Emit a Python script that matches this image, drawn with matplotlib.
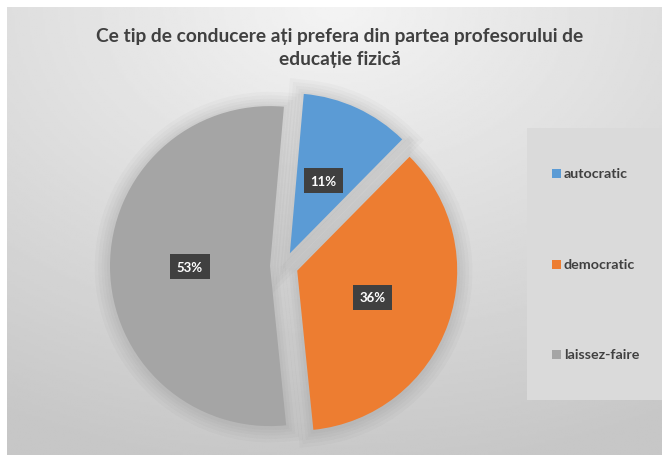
import numpy as np
import matplotlib.pyplot as plt
from matplotlib.patches import Rectangle, Wedge

# date din grafic
categorii = ["autocratic", "democratic", "laissez-faire"]
procente = [11, 36, 53]
culori = ["#5b9bd5", "#ed7d31", "#a5a5a5"]
titlu = "Ce tip de conducere ați prefera din partea profesorului de\neducație fizică"

plt.rcParams['font.family'] = ['Lato', 'DejaVu Sans']

fig = plt.figure(figsize=(6.62, 4.56), dpi=100)
fig.patch.set_facecolor("white")
ax = fig.add_axes([0, 0, 1, 1])

# fundal cu gradient (zona graficului)
W, H = 662, 456
yy, xx = np.mgrid[0:200, 0:300]
d = np.sqrt(((xx - 150) / 300.0) ** 2 + ((yy - 0) / 200.0) ** 2)
grad = np.clip(0.955 - 0.17 * d, 0.78, 0.96)
ax.imshow(grad, cmap="gray", vmin=0, vmax=1, extent=[7, W, 0, H - 8],
          origin="upper", aspect="auto", zorder=0)

# pie
cx, cy, r = 284, 456 - 267, 160
wedges, texts, autotexts = ax.pie(
    procente, colors=culori, startangle=85, counterclock=False,
    explode=[14] * 3, radius=r, center=(cx, cy),
    autopct="%1.0f%%", pctdistance=0.5,
    textprops=dict(color="white", fontsize=9.5, fontweight="bold"),
    wedgeprops=dict(linewidth=0))

# umbra difuza in jurul feliilor
for w in wedges:
    for lw in [22, 17, 12, 8, 4]:
        sh = Wedge((w.center[0], w.center[1] - 1), w.r, w.theta1, w.theta2,
                   facecolor="none", edgecolor="black", linewidth=lw,
                   alpha=0.02, zorder=0.5)
        ax.add_patch(sh)
    w.set_zorder(1)

for t in autotexts:
    t.set_bbox(dict(boxstyle="square,pad=0.5", facecolor="#404040",
                    edgecolor="none"))
    t.set_zorder(3)

ax.set_xlim(0, W)
ax.set_ylim(0, H)
ax.set_aspect("auto")
ax.axis("off")

# titlu
ax.text(340, H - 48, titlu, ha="center", va="center", fontsize=13.8,
        fontweight="bold", color="#404040", linespacing=1.4, zorder=4)

# legenda
ax.add_patch(Rectangle((527, H - 401), 140, 272, facecolor="#dadada",
                       edgecolor="none", zorder=1))
leg_y = [174, 265, 355]
for nume, cul, y in zip(categorii, culori, leg_y):
    ax.add_patch(Rectangle((552, H - y - 4.5), 9, 9, facecolor=cul,
                           edgecolor="none", zorder=2))
    ax.text(564, H - y, nume, ha="left", va="center", fontsize=10.3,
            fontweight="bold", color="#404040", zorder=2)

fig.savefig("out.png", dpi=100)
